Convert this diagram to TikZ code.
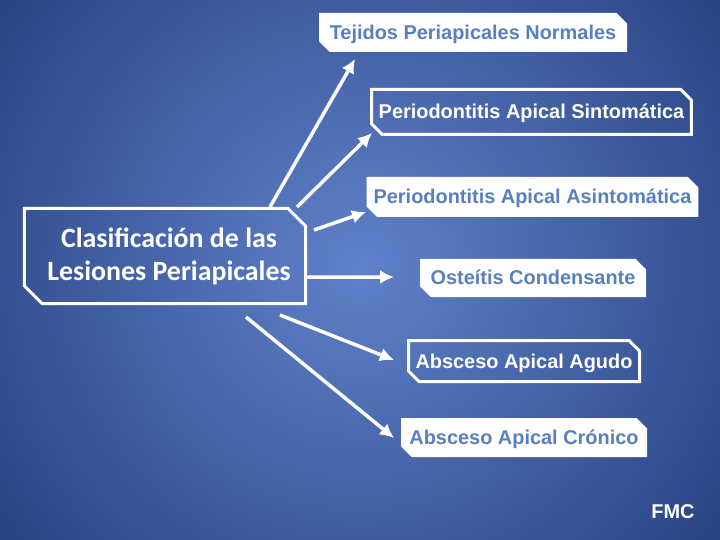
\documentclass[tikz,border=0pt]{standalone}
\usepackage{fontspec}
\setmainfont{Liberation Sans}
\newfontfamily\carlito{Carlito}
\usetikzlibrary{shapes.misc,arrows.meta}
\definecolor{fondoclaro}{RGB}{96,130,202}
\definecolor{fondooscuro}{RGB}{8,30,90}
\definecolor{textoazul}{RGB}{88,128,190}
\begin{document}
\begin{tikzpicture}[x=1bp,y=-1bp,
	caja/.style={chamfered rectangle,chamfered rectangle corners={north east,south west},chamfered rectangle xsep=8bp,inner sep=0pt,text height=14bp,text depth=0bp,font=\fontsize{20}{24}\selectfont\bfseries},
	cajallena/.style={caja,fill=white,text=textoazul},
	cajahueca/.style={caja,draw=white,line width=3bp,text=white},
	flecha/.style={draw=white,line width=3.5bp,-{Latex[length=14bp,width=14bp]}}]
		\useasboundingbox (0,0) rectangle (720,540);
		\begin{scope}
			\clip (0,0) rectangle (720,540);
			\shade[inner color=fondoclaro,outer color=fondooscuro] (360,265) circle (720bp);
		\end{scope}
		\node[cajahueca,chamfered rectangle xsep=14bp,minimum width=281bp,minimum height=95bp,text height=,text depth=,align=center,font=\carlito\bfseries\fontsize{28}{33}\selectfont] (clasif) at (165,256) {\hspace*{8bp}Clasificación de las\\\hspace*{8bp}Lesiones Periapicales};
		\node[cajallena,minimum width=308bp,minimum height=39bp] (tejidos) at (473,32.5) {Tejidos Periapicales Normales};
		\node[cajahueca,minimum width=316bp,minimum height=45bp] (sintomatica) at (531.5,112) {Periodontitis Apical Sintomática};
		\node[cajallena,minimum width=331bp,minimum height=40bp] (asintomatica) at (532.5,197) {Periodontitis Apical Asintomática};
		\node[cajallena,minimum width=226bp,minimum height=38bp] (osteitis) at (533,278) {Osteítis Condensante};
		\node[cajahueca,minimum width=229bp,minimum height=41bp] (agudo) at (524,361) {Absceso Apical Agudo};
		\node[cajallena,minimum width=246bp,minimum height=39bp] (cronico) at (524,437.5) {Absceso Apical Crónico};
		\node[text=white,font=\fontsize{20}{22}\selectfont\bfseries] (fmc) at (673,512) {FMC};
		\coordinate (pTejidos) at (355,59);
		\coordinate (pSintomatica) at (372,133);
		\coordinate (pAsintomatica) at (366,212);
		\coordinate (pOsteitis) at (394,277);
		\coordinate (pAgudo) at (394,360);
		\coordinate (pCronico) at (394,438);
		\draw[flecha] ([xshift=105bp]clasif.north) -- (pTejidos);
		\draw[flecha] ([xshift=132bp]clasif.north) -- (pSintomatica);
		\draw[flecha] ([xshift=7bp,yshift=26bp]clasif.east) -- (pAsintomatica);
		\draw[flecha] ([yshift=-21bp]clasif.east) -- (pOsteitis);
		\draw[flecha] ([xshift=115bp,yshift=-10bp]clasif.south) -- (pAgudo);
		\draw[flecha] ([xshift=81bp,yshift=-12bp]clasif.south) -- (pCronico);
	\end{tikzpicture}
\end{document}
